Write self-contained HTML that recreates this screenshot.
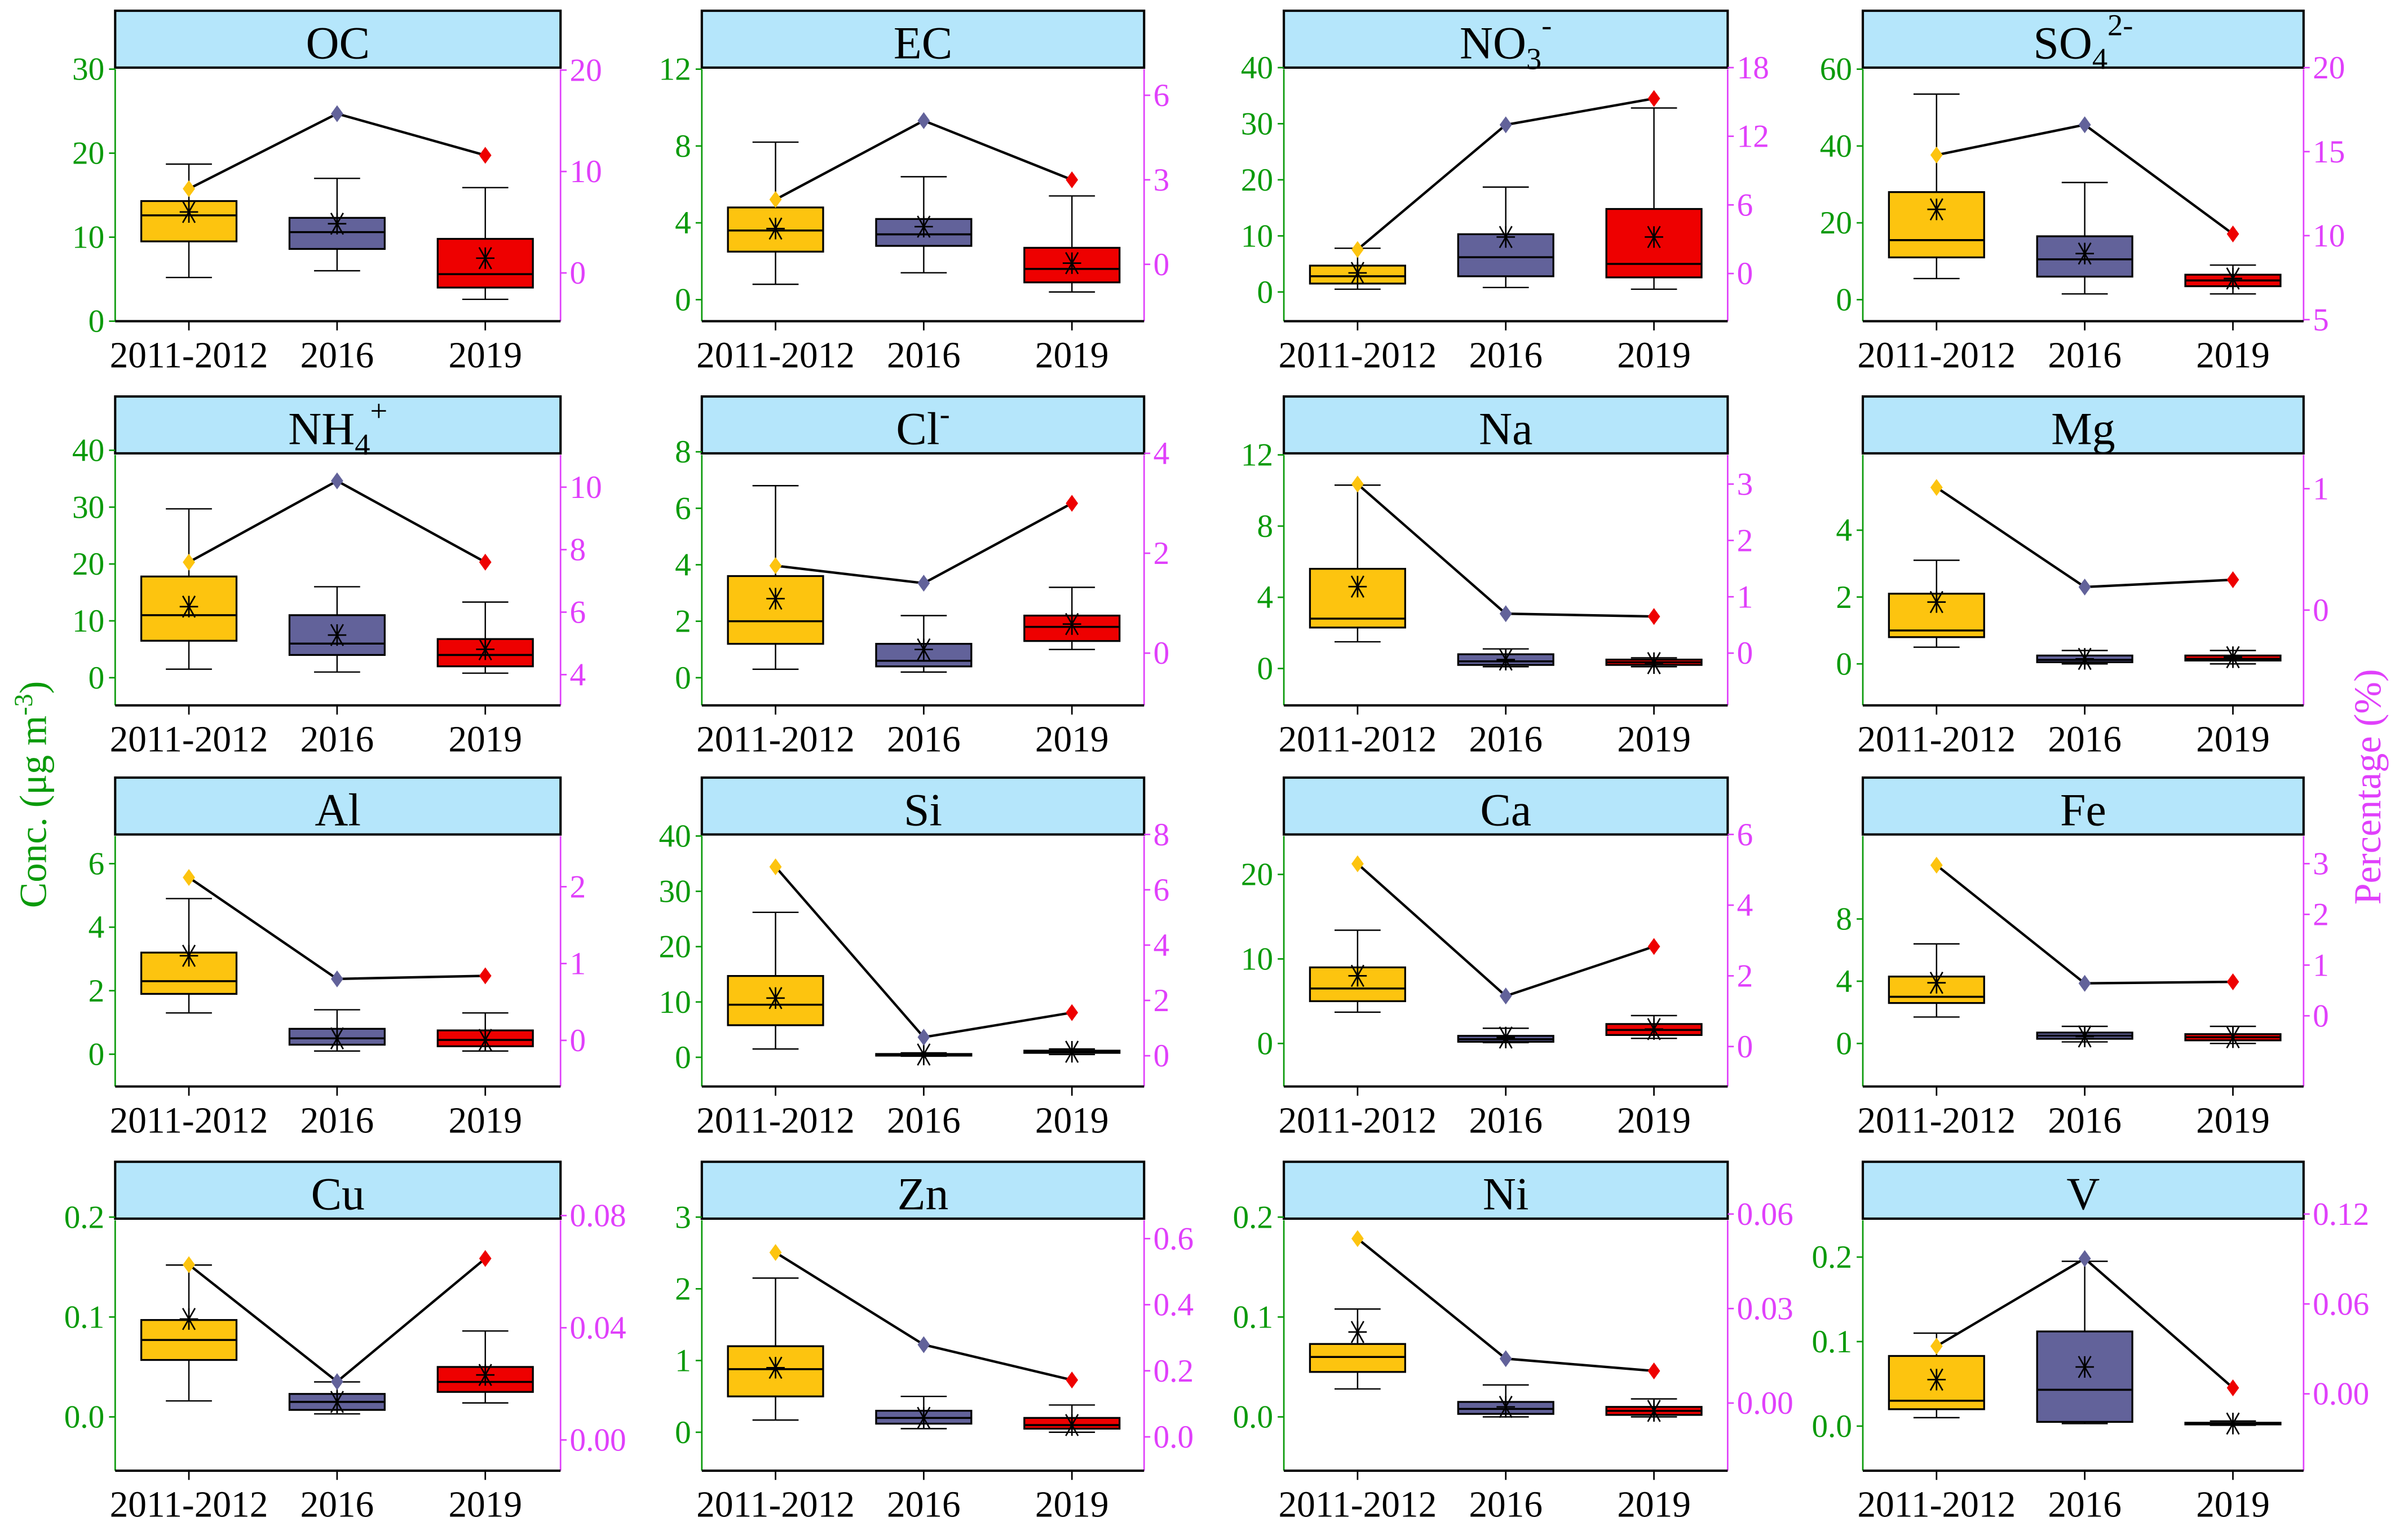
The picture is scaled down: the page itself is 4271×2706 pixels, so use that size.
<!DOCTYPE html>
<html><head><meta charset="utf-8"><style>
html,body{margin:0;padding:0;background:#fff;}
svg{display:block;}
svg text{font-family:"Liberation Serif","DejaVu Serif",serif;}
</style></head><body>
<svg id="chart" xmlns="http://www.w3.org/2000/svg" width="4271" height="2706" viewBox="0 0 1568 993" preserveAspectRatio="none" font-family="Liberation Serif, serif">
<text font-family="Liberation Serif, serif" transform="translate(30,517) rotate(-90)" text-anchor="middle" font-size="25" fill="#0a9a0a">Conc. (μg m<tspan dy="-9" font-size="17">-3</tspan><tspan dy="9">)</tspan></text>
<text font-family="Liberation Serif, serif" transform="translate(1550,512) rotate(-90)" text-anchor="middle" font-size="25" fill="#e040fb">Percentage (%)</text>
</svg>
<script>
// ---- data ----
const categories = ["2011-2012","2016","2019"];
const species = ["OC","EC","NO3","SO4","NH4","Cl","Na","Mg","Al","Si","Ca","Fe","Cu","Zn","Ni","V"];
const whiskerLow = [[5.2,6,2.6],[0.8,1.4,0.4],[0.5,0.8,0.5],[5.5,1.5,1.5],[1.5,1,0.8],[0.3,0.2,1],[1.5,0.1,0.1],[0.5,0,0],[1.3,0.1,0.1],[1.5,0.2,0.5],[3.7,0.1,0.6],[1.7,0.1,0],[0.016,0.003,0.014],[0.17,0.05,0],[0.028,0,0],[0.01,0.003,0.001]];
const q1 = [[9.5,8.6,4],[2.5,2.8,0.9],[1.5,2.8,2.6],[11,6,3.5],[6.5,4,2],[1.2,0.4,1.3],[2.3,0.2,0.2],[0.8,0.05,0.1],[1.9,0.3,0.25],[5.8,0.3,0.8],[5,0.2,1],[2.6,0.3,0.2],[0.057,0.007,0.025],[0.5,0.12,0.05],[0.045,0.003,0.002],[0.02,0.005,0.002]];
const medians = [[12.6,10.6,5.6],[3.6,3.4,1.6],[2.8,6.2,5],[15.5,10.5,5],[11,6,4],[2,0.6,1.8],[2.8,0.4,0.35],[1,0.12,0.15],[2.3,0.5,0.45],[9.5,0.45,1],[6.5,0.5,1.6],[3,0.5,0.4],[0.077,0.015,0.035],[0.88,0.2,0.1],[0.06,0.008,0.006],[0.03,0.043,0.003]];
const q3 = [[14.3,12.3,9.8],[4.8,4.2,2.7],[4.7,10.3,14.8],[28,16.5,6.5],[17.8,11,6.8],[3.6,1.2,2.2],[5.6,0.8,0.5],[2.1,0.25,0.25],[3.2,0.8,0.75],[14.7,0.6,1.2],[9,0.9,2.3],[4.3,0.7,0.6],[0.097,0.023,0.05],[1.2,0.3,0.2],[0.073,0.015,0.01],[0.083,0.112,0.004]];
const whiskerHigh = [[18.7,17,15.9],[8.2,6.4,5.4],[7.8,18.7,32.8],[53.5,30.5,9],[29.7,16,13.3],[6.8,2.2,3.2],[10.3,1.1,0.6],[3.1,0.4,0.4],[4.9,1.4,1.3],[26.2,0.8,1.5],[13.4,1.8,3.3],[6.4,1.1,1.1],[0.152,0.035,0.086],[2.15,0.5,0.38],[0.108,0.032,0.018],[0.11,0.195,0.006]];
const means = [[13,11.6,7.5],[3.7,3.8,1.9],[3.4,9.8,9.8],[23.5,12,5.5],[12.5,7.5,5],[2.8,1,1.9],[4.6,0.5,0.3],[1.85,0.15,0.2],[3.1,0.5,0.45],[10.7,0.5,1],[8,0.7,1.7],[3.9,0.45,0.4],[0.098,0.015,0.042],[0.9,0.2,0.1],[0.085,0.01,0.006],[0.055,0.07,0.003]];
const percentages = [[8.3,15.7,11.6],[2.3,5.1,3.0],[2.1,13,15.3],[14.8,16.6,10.1],[7.6,10.2,7.6],[1.75,1.4,3.0],[3.0,0.7,0.65],[1.01,0.19,0.25],[2.12,0.8,0.84],[6.83,0.67,1.56],[5.17,1.43,2.83],[2.97,0.64,0.67],[0.0625,0.0208,0.0647],[0.558,0.279,0.172],[0.0522,0.0141,0.0102],[0.0318,0.0903,0.004]];
const leftTicks = [[0,10,20,30],[0,4,8,12],[0,10,20,30,40],[0,20,40,60],[0,10,20,30,40],[0,2,4,6,8],[0,4,8,12],[0,2,4],[0,2,4,6],[0,10,20,30,40],[0,10,20],[0,4,8],[0.0,0.1,0.2],[0,1,2,3],[0.0,0.1,0.2],[0.0,0.1,0.2]];
const rightTicks = [[0,10,20],[0,3,6],[0,6,12,18],[5,10,15,20],[4,6,8,10],[0,2,4],[0,1,2,3],[0,1],[0,1,2],[0,2,4,6,8],[0,2,4,6],[0,1,2,3],[0.00,0.04,0.08],[0.0,0.2,0.4,0.6],[0.00,0.03,0.06],[0.00,0.06,0.12]];
const leftTickText = [null,null,null,null,null,null,null,null,null,null,null,null,["0.0","0.1","0.2"],null,["0.0","0.1","0.2"],["0.0","0.1","0.2"]];
const rightTickText = [null,null,null,null,null,null,null,null,null,null,null,null,["0.00","0.04","0.08"],["0.0","0.2","0.4","0.6"],["0.00","0.03","0.06"],["0.00","0.06","0.12"]];

// ---- layout (pixel calibration: axis end ticks -> screen y) ----
const colL=[75,457,836,1213], colR=[365,745,1125,1500];
const rowT=[7,258,506,756], rowB=[209,459,707,957];
const leftCal=[[209,45],[195,45],[190,44],[195,45],[441,293],[441,294],[435,296],[432,345],[686,562],[688,544],[679,569],[679,598],[922,792],[932,792],[922,792],[928,818]];
const rightCal=[[177.6,45.6],[172,62],[178,44],[208,44],[439,317],[425,295],[425,315],[397,318],[677,577],[687,543],[681,543],[661,562],[937,791],[935,806],[913,790],[907,790]];
const boxColors=["#fdc40f","#62629a","#ee0000"];
const GREEN="#0a9a0a", MAG="#e040fb";
const FONT="Liberation Serif, serif";
const titles={OC:"OC",EC:"EC",Na:"Na",Mg:"Mg",Al:"Al",Si:"Si",Ca:"Ca",Fe:"Fe",Cu:"Cu",Zn:"Zn",Ni:"Ni",V:"V"};

const svg=document.getElementById('chart');
const NS="http://www.w3.org/2000/svg";
function mk(tag,attrs,parent){const e=document.createElementNS(NS,tag);for(const k in attrs)e.setAttribute(k,attrs[k]);if(tag==='text')e.setAttribute('font-family',FONT);(parent||svg).appendChild(e);return e;}
function scale(ticks,cal){const a=ticks[0],b=ticks[ticks.length-1];return v=>cal[0]+(v-a)/(b-a)*(cal[1]-cal[0]);}

species.forEach((sp,i)=>{
  const r=Math.floor(i/4), c=i%4;
  const L=colL[c], R=colR[c], T=rowT[r], B=rowB[r];
  const g=mk('g',{});
  
  
  const yL=scale(leftTicks[i],leftCal[i]);
  const yR=scale(rightTicks[i],rightCal[i]);
  const xC=k=>L+48+k*96.5;
  const tb=mk('rect',{x:L,y:T,width:R-L,height:37,fill:"#b5e6fb",stroke:"#000","stroke-width":1.5},g);
  
  
  const tt=mk('text',{x:(L+R)/2,y:T+31,"text-anchor":"middle","font-size":30,fill:"#000"},g);
  
  
  if(sp==="NO3") tt.innerHTML='NO<tspan dy="7" font-size="20">3</tspan><tspan dy="-22" font-size="20">-</tspan>';
  else if(sp==="SO4") tt.innerHTML='SO<tspan dy="7" font-size="20">4</tspan><tspan dy="-22" font-size="20">2-</tspan>';
  else if(sp==="NH4") tt.innerHTML='NH<tspan dy="7" font-size="20">4</tspan><tspan dy="-22" font-size="20">+</tspan>';
  else if(sp==="Cl") tt.innerHTML='Cl<tspan dy="-13" font-size="20">-</tspan>';
  else tt.textContent=titles[sp];
  const top=T+38;
  const la=mk('line',{x1:L,y1:top,x2:L,y2:B,stroke:GREEN,"stroke-width":1},g);
  
  const ra=mk('line',{x1:R,y1:top,x2:R,y2:B,stroke:MAG,"stroke-width":1},g);
  
  const xa=mk('line',{x1:L,y1:B,x2:R,y2:B,stroke:"#000","stroke-width":1.5},g);
  
  leftTicks[i].forEach((v,k)=>{
    const y=yL(v);
    mk('line',{x1:L-4,y1:y,x2:L,y2:y,stroke:GREEN},g);
    const t=mk('text',{x:L-7,y:y+7,"text-anchor":"end","font-size":21,fill:GREEN},g);
    
    t.textContent=leftTickText[i]?leftTickText[i][k]:String(v);
  });
  rightTicks[i].forEach((v,k)=>{
    const y=yR(v);
    mk('line',{x1:R,y1:y,x2:R+4,y2:y,stroke:MAG},g);
    const t=mk('text',{x:R+6,y:y+7,"text-anchor":"start","font-size":21,fill:MAG},g);
    
    t.textContent=rightTickText[i]?rightTickText[i][k]:String(v);
  });
  categories.forEach((cat,k)=>{
    const x=xC(k);
    mk('line',{x1:x,y1:B,x2:x,y2:B+6,stroke:"#000"},g);
    const t=mk('text',{x:x,y:B+30,"text-anchor":"middle","font-size":24,fill:"#000"},g);
    
    t.textContent=cat;
    const wl=yL(whiskerLow[i][k]),wh=yL(whiskerHigh[i][k]),a=yL(q1[i][k]),b=yL(q3[i][k]),m=yL(medians[i][k]);
    mk('line',{x1:x,y1:wh,x2:x,y2:wl,stroke:"#000","stroke-width":0.9},g);
    mk('line',{x1:x-15,y1:wh,x2:x+15,y2:wh,stroke:"#000","stroke-width":0.9},g);
    mk('line',{x1:x-15,y1:wl,x2:x+15,y2:wl,stroke:"#000","stroke-width":0.9},g);
    const bx=mk('rect',{x:x-31,y:b,width:62,height:Math.max(a-b,0.5),fill:boxColors[k],stroke:"#000","stroke-width":1.2},g);
    
    
    mk('line',{x1:x-31,y1:m,x2:x+31,y2:m,stroke:"#000","stroke-width":1.3},g);
    const mn=yL(means[i][k]);
    const s=mk('path',{d:`M${x-6},${mn}H${x+6}M${x-4},${mn-7}L${x+4},${mn+7}M${x+4},${mn-7}L${x-4},${mn+7}M${x},${mn-7}V${mn+7}`,stroke:"#000","stroke-width":1},g);
    
  });
  const pts=categories.map((c2,k)=>[xC(k),yR(percentages[i][k])]);
  const pl=mk('polyline',{points:pts.map(p=>p.join(',')).join(' '),fill:"none",stroke:"#000","stroke-width":1.6},g);
  
  pts.forEach((p,k)=>{
    const d=mk('path',{d:`M${p[0]},${p[1]-5.5}L${p[0]+4},${p[1]}L${p[0]},${p[1]+5.5}L${p[0]-4},${p[1]}Z`,fill:boxColors[k]},g);
    
  });
});
</script>
</body></html>
